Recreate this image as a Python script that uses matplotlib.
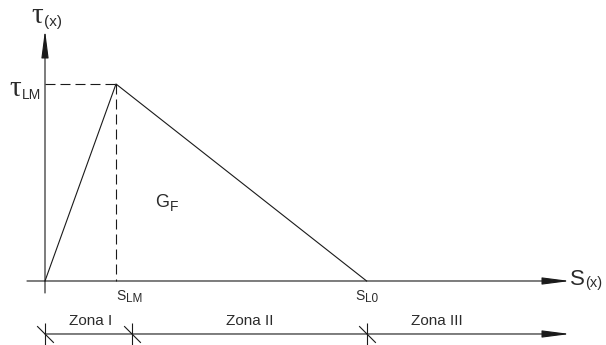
import matplotlib.pyplot as plt

# bilinear bond-slip law: peak at (s_LM, tau_LM), zero at s_L0
s_pts = [0.0, 1.0, 4.53]
tau_pts = [0.0, 1.0, 0.0]
s_lm = 1.0
tau_lm = 1.0
s_l0 = 4.53

# zones below the diagram
zone_edges = [0.0, 1.225, 4.53]
zone_names = ['Zona I', 'Zona II', 'Zona III']
zone_label_s = [0.64, 2.89, 5.52]
zone_level = -0.269

ink = '#1a1a1a'
txt = '#2b2b2b'

plt.rcParams['font.family'] = ['Liberation Sans', 'DejaVu Sans']

fig = plt.figure(figsize=(6.06, 3.45), dpi=100)
ax = fig.add_axes([0, 0, 1, 1])
ax.set_xlim(-0.6338, 7.9014)
ax.set_ylim(-0.3249, 1.4264)
ax.axis('off')


def arrow(ax, start, tip):
    ax.annotate('', xy=tip, xytext=start,
                arrowprops=dict(arrowstyle='-|>,head_length=17,head_width=2.2',
                                mutation_scale=1, shrinkA=0, shrinkB=0,
                                lw=0.8, color=ink, fc=ink))


def label(ax, big, small, xy, big_size, small_size, offset=(0, 0),
          ha='left', va='baseline', big_family=None, small_dy=0, gap=0.5):
    # big letter followed by a smaller trailing part on the same baseline
    kw = {}
    if big_family:
        kw['family'] = big_family
    b = ax.annotate(big, xy=xy, xytext=offset, textcoords='offset points',
                    ha=ha, va=va, fontsize=big_size, color=txt, **kw)
    ax.annotate(small, xy=(1, 0), xycoords=b, xytext=(gap, small_dy),
                textcoords='offset points', ha='left', va='bottom',
                fontsize=small_size, color=txt)
    return b


# axes of the diagram
arrow(ax, (-0.254, 0), (7.394, 0))
arrow(ax, (0, -0.061), (0, 1.274))

# law
dash = (0, (9, 4.5))
ax.plot(s_pts, tau_pts, color=ink, lw=0.8)
ax.plot([0, s_lm], [tau_lm, tau_lm], color=ink, lw=0.8, ls=dash)
ax.plot([s_lm, s_lm], [tau_lm, 0], color=ink, lw=0.8, ls=dash)

# zone line with tick marks
arrow(ax, (0, zone_level), (7.394, zone_level))
ax.plot(zone_edges, [zone_level] * len(zone_edges), ls='none',
        marker='|', ms=16, mew=0.8, color=ink)
ax.plot(zone_edges, [zone_level] * len(zone_edges), ls='none',
        marker=(2, 0, 45), ms=17, mew=0.8, color=ink)
for xs, name in zip(zone_label_s, zone_names):
    ax.annotate(name, xy=(xs, zone_level), xytext=(0, 4),
                textcoords='offset points', ha='center', va='bottom',
                fontsize=11, color=txt)

# labels
label(ax, '\u03c4', '(x)', (0, 1.31), 21, 11, offset=(-10, 0),
      big_family='Liberation Serif')
t = ax.annotate('LM', xy=(0, tau_lm), xytext=(-3, -11),
                textcoords='offset points', ha='right', va='baseline',
                fontsize=10, color=txt)
ax.annotate('\u03c4', xy=(0, 0), xycoords=t, xytext=(-0.5, 0),
            textcoords='offset points', ha='right', va='bottom',
            fontsize=21, color=txt, family='Liberation Serif')
label(ax, 'S', '(x)', (7.394, 0), 16, 10.5, offset=(0, -3), gap=0)
label(ax, 'S', 'LM', (s_lm, 0), 10, 8.5, offset=(0, -14), small_dy=-1)
s0 = ax.annotate('S', xy=(s_l0, 0), xytext=(-8, -14),
                 textcoords='offset points', ha='left', va='baseline',
                 fontsize=10, color=txt)
ax.annotate('L0', xy=(1, 0), xycoords=s0, xytext=(0, -1),
            textcoords='offset points', ha='left', va='bottom',
            fontsize=8.5, color=txt)
label(ax, 'G', 'F', (1.55, 0.376), 13, 10, small_dy=-2)

fig.savefig('out.png', dpi=100)
